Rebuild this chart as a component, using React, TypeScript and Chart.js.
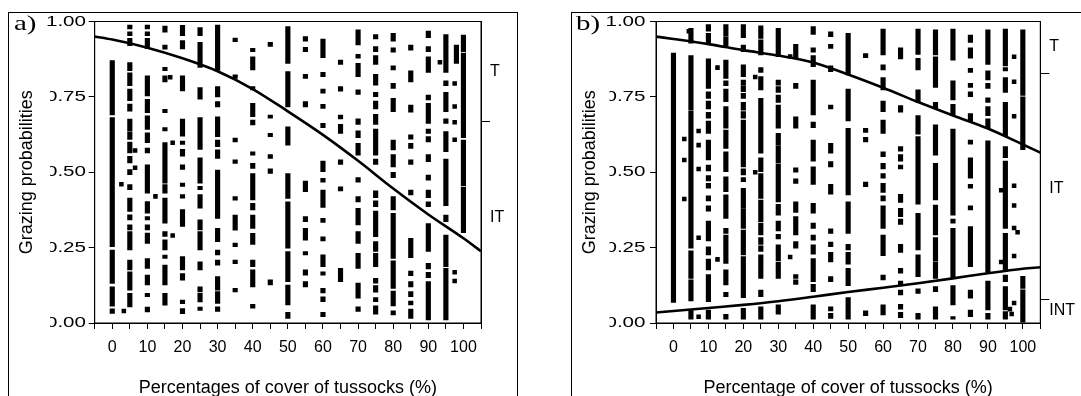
import React, { useEffect, useRef } from 'react';
import { Chart, registerables } from 'chart.js';

Chart.register(...registerables);

const FONT = '"Liberation Sans", Arial, Helvetica, sans-serif';

// ---------- tick labels ----------
const xTickValues = [0, 10, 20, 30, 40, 50, 60, 70, 80, 90, 100];
const xTickLabels = ['0', '10', '20', '30', '40', '50', '60', '70', '80', '90', '100'];
const yTickValues = [0, 0.25, 0.5, 0.75, 1];
const yTickLabels = ['0.00', '0.25', '0.50', '0.75', '1.00'];

const xTitleA = 'Percentages of cover of tussocks (%)';
const xTitleB = 'Percentage of cover of tussocks (%)';
const yTitle = 'Grazing probabilities';

// right-hand zone labels ('' = boundary tick mark)
const rightValuesA = [0.834, 0.669, 0.348];
const rightLabelsA = ['T', '', 'IT'];
const rightValuesB = [0.917, 0.829, 0.446, 0.079, 0.04];
const rightLabelsB = ['T', '', 'IT', '', 'INT'];

// ---------- panel a: observed grazing records (columns of ranges) ----------
const columnXsA = [0, 5, 10, 15, 20, 25, 30, 35, 40, 45, 50, 55, 60, 65, 70, 75, 80, 85, 90, 95, 100, 98];
const columnRangesA: number[][][] = [
  [[0.032, 0.047], [0.056, 0.12], [0.131, 0.242], [0.253, 0.681], [0.69, 0.87]],
  [[0.975, 0.988], [0.953, 0.966], [0.92, 0.944], [0.837, 0.864], [0.787, 0.83], [0.737, 0.776], [0.703, 0.726], [0.637, 0.676], [0.609, 0.634], [0.564, 0.6], [0.531, 0.553], [0.492, 0.509], [0.442, 0.459], [0.37, 0.414], [0.342, 0.359], [0.309, 0.326], [0.242, 0.303], [0.176, 0.209], [0.109, 0.17], [0.053, 0.098]],
  [[0.975, 0.988], [0.953, 0.966], [0.91, 0.944], [0.753, 0.82], [0.698, 0.742], [0.642, 0.687], [0.598, 0.631], [0.564, 0.58], [0.431, 0.525], [0.364, 0.403], [0.342, 0.353], [0.309, 0.326], [0.264, 0.298], [0.181, 0.214], [0.126, 0.159], [0.087, 0.098], [0.037, 0.053]],
  [[0.965, 0.985], [0.908, 0.922], [0.837, 0.848], [0.8, 0.82], [0.698, 0.709], [0.637, 0.648], [0.464, 0.598], [0.431, 0.459], [0.331, 0.414], [0.287, 0.303], [0.242, 0.276], [0.214, 0.225], [0.126, 0.192], [0.059, 0.098]],
  [[0.953, 0.987], [0.909, 0.937], [0.77, 0.82], [0.62, 0.676], [0.592, 0.603], [0.553, 0.576], [0.509, 0.525], [0.453, 0.464], [0.414, 0.426], [0.32, 0.376], [0.176, 0.22], [0.142, 0.164], [0.064, 0.076], [0.031, 0.048]],
  [[0.953, 0.98], [0.848, 0.931], [0.742, 0.781], [0.576, 0.681], [0.464, 0.548], [0.442, 0.453], [0.381, 0.426], [0.309, 0.342], [0.242, 0.303], [0.176, 0.203], [0.103, 0.12], [0.07, 0.098], [0.042, 0.053]],
  [[0.838, 0.988], [0.75, 0.784], [0.717, 0.734], [0.618, 0.684], [0.585, 0.607], [0.546, 0.574], [0.347, 0.507], [0.27, 0.314], [0.226, 0.242], [0.192, 0.209], [0.109, 0.154], [0.065, 0.104], [0.038, 0.054]],
  [[0.933, 0.945], [0.811, 0.823], [0.601, 0.613], [0.529, 0.541], [0.407, 0.419], [0.308, 0.358], [0.253, 0.265], [0.197, 0.209], [0.103, 0.115]],
  [[0.9, 0.911], [0.839, 0.883], [0.773, 0.784], [0.684, 0.729], [0.657, 0.673], [0.557, 0.568], [0.513, 0.53], [0.408, 0.496], [0.375, 0.397], [0.314, 0.358], [0.261, 0.297], [0.187, 0.209], [0.12, 0.176], [0.049, 0.062]],
  [[0.917, 0.931], [0.679, 0.69], [0.618, 0.629], [0.546, 0.559], [0.496, 0.511], [0.126, 0.143]],
  [[0.861, 0.983], [0.717, 0.834], [0.59, 0.651], [0.413, 0.496], [0.248, 0.402], [0.137, 0.237], [0.06, 0.126], [0.015, 0.035]],
  [[0.935, 0.95], [0.9, 0.914], [0.811, 0.825], [0.717, 0.734], [0.436, 0.471], [0.336, 0.353], [0.275, 0.314], [0.226, 0.237], [0.159, 0.176], [0.12, 0.137]],
  [[0.88, 0.942], [0.817, 0.831], [0.762, 0.776], [0.712, 0.725], [0.648, 0.662], [0.502, 0.537], [0.467, 0.48], [0.383, 0.441], [0.334, 0.347], [0.272, 0.286], [0.187, 0.226], [0.159, 0.17], [0.1, 0.115], [0.071, 0.087], [0.021, 0.035]],
  [[0.858, 0.872], [0.769, 0.784], [0.677, 0.69], [0.629, 0.659], [0.526, 0.541], [0.438, 0.452], [0.137, 0.181]],
  [[0.922, 0.972], [0.878, 0.891], [0.817, 0.861], [0.758, 0.773], [0.659, 0.677], [0.615, 0.637], [0.557, 0.596], [0.467, 0.482], [0.402, 0.419], [0.325, 0.38], [0.264, 0.303], [0.181, 0.231], [0.082, 0.132], [0.038, 0.054]],
  [[0.942, 0.957], [0.9, 0.917], [0.858, 0.887], [0.789, 0.825], [0.751, 0.765], [0.71, 0.736], [0.659, 0.692], [0.557, 0.643], [0.526, 0.544], [0.416, 0.438], [0.386, 0.405], [0.286, 0.371], [0.237, 0.27], [0.187, 0.231], [0.132, 0.148], [0.102, 0.124], [0.071, 0.084], [0.029, 0.057]],
  [[0.935, 0.961], [0.898, 0.913], [0.839, 0.853], [0.778, 0.795], [0.701, 0.745], [0.574, 0.607], [0.518, 0.559], [0.482, 0.5], [0.375, 0.419], [0.214, 0.364], [0.115, 0.206], [0.057, 0.106], [0.027, 0.04]],
  [[0.905, 0.922], [0.8, 0.836], [0.699, 0.723], [0.61, 0.624], [0.579, 0.596], [0.526, 0.541], [0.425, 0.441], [0.217, 0.281], [0.157, 0.172], [0.12, 0.137], [0.087, 0.104], [0.06, 0.073], [0.015, 0.046]],
  [[0.946, 0.968], [0.9, 0.917], [0.831, 0.883], [0.74, 0.756], [0.662, 0.729], [0.629, 0.643], [0.601, 0.618], [0.535, 0.559], [0.474, 0.491], [0.416, 0.441], [0.386, 0.402], [0.237, 0.33], [0.179, 0.198], [0.15, 0.168], [0.01, 0.137]],
  [[0.831, 0.957], [0.787, 0.803], [0.701, 0.765], [0.662, 0.677], [0.568, 0.635], [0.389, 0.544], [0.336, 0.358], [0.187, 0.292], [0.01, 0.181]],
  [[0.3, 0.45], [0.455, 0.607], [0.615, 0.895], [0.9, 0.955]],
  [[0.861, 0.922]],
];
const dotsA: number[][] = [
  [2.6, 0.46], [3.3, 0.04], [6.5, 0.572], [6.5, 0.515], [12.3, 0.42], [16.5, 0.815], [17.2, 0.598], [17.2, 0.29],
  [93.3, 0.865], [97.5, 0.794], [97.5, 0.718], [97.5, 0.666], [97.5, 0.608], [97.5, 0.168], [97.5, 0.139],
];
const curveA: number[][] = [
  [-5, 0.95], [0, 0.94], [10, 0.913], [20, 0.878], [30, 0.835], [40, 0.776], [50, 0.702], [60, 0.624],
  [70, 0.538], [80, 0.446], [90, 0.36], [100, 0.281], [105, 0.238],
];

// ---------- panel b ----------
const columnXsB = [0, 5, 10, 15, 20, 25, 30, 35, 40, 45, 50, 55, 60, 65, 70, 75, 80, 85, 90, 95, 100];
const columnRangesB: number[][][] = [
  [[0.068, 0.895]],
  [[0.928, 0.977], [0.706, 0.887], [0.248, 0.703], [0.148, 0.239], [0.073, 0.143], [0.013, 0.043]],
  [[0.968, 0.99], [0.928, 0.961], [0.778, 0.876], [0.745, 0.767], [0.71, 0.736], [0.679, 0.699], [0.629, 0.67], [0.541, 0.607], [0.504, 0.524], [0.471, 0.489], [0.447, 0.463], [0.405, 0.422], [0.371, 0.389], [0.272, 0.338], [0.226, 0.253], [0.176, 0.212], [0.071, 0.161], [0.013, 0.043]],
  [[0.953, 0.99], [0.92, 0.95], [0.811, 0.872], [0.787, 0.803], [0.734, 0.776], [0.646, 0.718], [0.579, 0.64], [0.502, 0.568], [0.436, 0.485], [0.347, 0.425], [0.297, 0.314], [0.198, 0.292], [0.126, 0.176], [0.087, 0.102], [0.013, 0.029]],
  [[0.946, 0.99], [0.9, 0.922], [0.817, 0.856], [0.789, 0.806], [0.767, 0.787], [0.745, 0.762], [0.706, 0.732], [0.679, 0.701], [0.518, 0.673], [0.491, 0.511], [0.469, 0.482], [0.38, 0.447], [0.314, 0.378], [0.226, 0.308], [0.084, 0.22], [0.013, 0.049]],
  [[0.944, 0.986], [0.889, 0.939], [0.831, 0.847], [0.773, 0.817], [0.563, 0.745], [0.502, 0.548], [0.413, 0.496], [0.336, 0.408], [0.292, 0.331], [0.261, 0.283], [0.237, 0.256], [0.203, 0.226], [0.148, 0.201], [0.087, 0.109], [0.013, 0.054]],
  [[0.883, 0.977], [0.789, 0.806], [0.765, 0.784], [0.732, 0.756], [0.646, 0.723], [0.59, 0.629], [0.53, 0.588], [0.402, 0.526], [0.358, 0.394], [0.305, 0.338], [0.279, 0.294], [0.206, 0.259], [0.148, 0.201], [0.029, 0.06]],
  [[0.878, 0.924], [0.778, 0.795], [0.646, 0.684], [0.5, 0.515], [0.463, 0.478], [0.367, 0.402], [0.292, 0.353], [0.248, 0.27], [0.148, 0.161], [0.128, 0.143]],
  [[0.957, 0.983], [0.898, 0.913], [0.85, 0.887], [0.69, 0.806], [0.648, 0.666], [0.537, 0.607], [0.46, 0.518], [0.364, 0.397], [0.314, 0.331], [0.275, 0.292], [0.228, 0.259], [0.137, 0.214], [0.104, 0.128], [0.013, 0.06]],
  [[0.95, 0.966], [0.911, 0.924], [0.834, 0.853], [0.71, 0.723], [0.563, 0.596], [0.518, 0.535], [0.427, 0.46], [0.297, 0.312], [0.253, 0.268], [0.203, 0.234], [0.137, 0.154], [0.04, 0.054], [0.015, 0.032]],
  [[0.823, 0.961], [0.67, 0.776], [0.425, 0.646], [0.297, 0.402], [0.242, 0.261], [0.195, 0.234], [0.124, 0.181], [0.013, 0.084]],
  [[0.88, 0.894], [0.632, 0.646], [0.601, 0.616], [0.452, 0.467], [0.024, 0.04]],
  [[0.889, 0.975], [0.839, 0.856], [0.773, 0.814], [0.701, 0.736], [0.629, 0.673], [0.552, 0.568], [0.511, 0.53], [0.48, 0.496], [0.433, 0.463], [0.405, 0.422], [0.314, 0.389], [0.223, 0.292], [0.143, 0.159], [0.027, 0.06]],
  [[0.876, 0.913], [0.699, 0.721], [0.57, 0.585], [0.537, 0.559], [0.511, 0.524], [0.4, 0.427], [0.353, 0.38], [0.327, 0.345], [0.234, 0.261], [0.165, 0.181], [0.126, 0.139], [0.093, 0.109], [0.046, 0.062], [0.018, 0.035]],
  [[0.891, 0.975], [0.839, 0.878], [0.732, 0.773], [0.626, 0.688], [0.394, 0.618], [0.242, 0.364], [0.154, 0.226], [0.098, 0.113], [0.013, 0.032]],
  [[0.889, 0.972], [0.781, 0.883], [0.714, 0.732], [0.557, 0.657], [0.408, 0.53], [0.292, 0.391], [0.206, 0.283], [0.148, 0.203], [0.104, 0.121], [0.013, 0.054]],
  [[0.872, 0.975], [0.74, 0.803], [0.688, 0.725], [0.358, 0.643], [0.331, 0.345], [0.148, 0.314], [0.06, 0.124], [0.013, 0.021]],
  [[0.931, 0.955], [0.878, 0.913], [0.831, 0.845], [0.781, 0.795], [0.751, 0.767], [0.67, 0.695], [0.593, 0.607], [0.48, 0.548], [0.447, 0.46], [0.375, 0.389], [0.187, 0.32], [0.082, 0.109], [0.021, 0.043]],
  [[0.858, 0.972], [0.806, 0.836], [0.778, 0.795], [0.732, 0.747], [0.688, 0.718], [0.648, 0.677], [0.369, 0.604], [0.168, 0.367], [0.043, 0.139], [0.013, 0.032]],
  [[0.853, 0.975], [0.836, 0.847], [0.765, 0.814], [0.621, 0.732], [0.548, 0.585], [0.314, 0.537], [0.17, 0.297], [0.137, 0.159], [0.043, 0.121], [0.013, 0.038]],
  [[0.003, 0.11], [0.115, 0.155], [0.575, 0.75], [0.755, 0.972]],
];
const dotsB: number[][] = [
  [3.1, 0.61], [3.1, 0.541], [3.1, 0.411], [4.4, 0.968], [7.2, 0.637], [7.2, 0.59], [7.2, 0.511], [7.2, 0.283], [7.2, 0.021],
  [12.6, 0.847], [12.6, 0.211], [23.4, 0.816], [23.4, 0.5], [33.4, 0.884], [33.4, 0.219],
  [93.8, 0.44], [93.8, 0.202], [97.5, 0.883], [97.5, 0.8], [97.5, 0.686], [97.5, 0.455], [97.5, 0.39], [97.5, 0.315],
  [97.5, 0.222], [97.5, 0.066], [98.5, 0.301], [96.3, 0.046], [96.8, 0.03],
];
const curveBUpper: number[][] = [
  [-5, 0.95], [0, 0.942], [10, 0.925], [20, 0.905], [30, 0.887], [40, 0.864], [50, 0.824], [60, 0.78],
  [70, 0.733], [80, 0.688], [90, 0.645], [100, 0.592], [105, 0.565],
];
const curveBLower: number[][] = [
  [-5, 0.035], [0, 0.04], [10, 0.05], [20, 0.06], [30, 0.072], [40, 0.087], [50, 0.103], [60, 0.117],
  [70, 0.132], [80, 0.148], [90, 0.165], [100, 0.18], [105, 0.185],
];

type PanelSpec = {
  colXs: number[];
  colRanges: number[][][];
  dots: number[][];
  curves: number[][][];
  rightValues: number[];
  rightLabels: string[];
  xTitle: string;
  width: number;
  padLeft: number;
  yWidth: number;
  rightWidth: number;
  labelRight: number;
  labelClip: number;
};

const framePlugin = {
  id: 'frame',
  afterDraw(chart: any) {
    const { ctx, chartArea } = chart;
    ctx.save();
    ctx.strokeStyle = '#000';
    ctx.lineWidth = 1;
    ctx.strokeRect(chartArea.left, chartArea.top, chartArea.right - chartArea.left, chartArea.bottom - chartArea.top);
    ctx.restore();
  },
};

// y tick labels drawn wide (as in the source figure), lower ones partly masked at the left
const yLabelPlugin = {
  id: 'wideYLabels',
  afterDraw(chart: any, _args: any, opts: any) {
    const s = chart.scales.y;
    const ctx = chart.ctx;
    ctx.save();
    ctx.font = `14.5px ${FONT}`;
    ctx.fillStyle = '#000';
    ctx.textBaseline = 'middle';
    ctx.textAlign = 'right';
    yTickValues.forEach((v, i) => {
      const y = s.getPixelForValue(v);
      ctx.save();
      if (v < 1) {
        ctx.beginPath();
        ctx.rect(opts.clip, 0, chart.width, chart.height);
        ctx.clip();
      }
      ctx.translate(opts.right, y);
      ctx.scale(1.42, 1);
      ctx.fillText(yTickLabels[i], 0, 0);
      ctx.restore();
    });
    ctx.restore();
  },
};

function xLabel(v: number): string {
  const r = Math.round(v);
  if (Math.abs(v - r) > 1e-6) return '';
  const i = xTickValues.indexOf(r);
  return i >= 0 ? xTickLabels[i] : '';
}
function yLabel(v: number): string {
  const i = yTickValues.findIndex((t) => Math.abs(t - v) < 1e-6);
  return i >= 0 ? yTickLabels[i] : '';
}

function buildConfig(p: PanelSpec): any {
  const bars: any[] = [];
  p.colXs.forEach((x, i) => {
    p.colRanges[i].forEach(([lo, hi]) => bars.push({ x, y: [lo, hi] }));
  });
  const datasets: any[] = [
    ...p.curves.map((c) => ({
      type: 'line',
      data: c.map(([x, y]) => ({ x, y })),
      borderColor: '#000',
      borderWidth: 2.6,
      pointRadius: 0,
      tension: 0.4,
      cubicInterpolationMode: 'monotone',
      fill: false,
    })),
    {
      type: 'scatter',
      data: p.dots.map(([x, y]) => ({ x, y })),
      pointStyle: 'rect',
      pointRadius: 3.2,
      pointBackgroundColor: '#000',
      pointBorderWidth: 0,
      borderWidth: 0,
      showLine: false,
    },
    {
      type: 'bar',
      data: bars,
      backgroundColor: '#000',
      borderWidth: 0,
      barThickness: 4.5,
      grouped: false,
    },
  ];
  const tickFont = { family: FONT, size: 16 };
  return {
    type: 'bar',
    data: { datasets },
    options: {
      animation: false,
      responsive: false,
      events: [],
      layout: { padding: { left: p.padLeft, right: 0, top: 21.5, bottom: 0 } },
      plugins: {
        legend: { display: false },
        tooltip: { enabled: false },
        wideYLabels: { right: p.labelRight, clip: p.labelClip },
      },
      scales: {
        x: {
          type: 'linear',
          min: -5,
          max: 105,
          offset: false,
          ticks: {
            stepSize: 5,
            autoSkip: false,
            maxRotation: 0,
            minRotation: 0,
            padding: 9,
            font: tickFont,
            color: '#000',
            callback: (v: number) => xLabel(v),
          },
          grid: { drawOnChartArea: false, tickLength: 6, color: '#000', offset: false },
          border: { display: true, color: '#000', width: 1 },
          title: {
            display: true,
            text: p.xTitle,
            color: '#000',
            font: { family: FONT, size: 18, lineHeight: 0.9 },
            padding: { top: 0, bottom: 0 },
          },
          afterFit: (s: any) => { s.height = 73; },
        },
        y: {
          type: 'linear',
          position: 'left',
          min: 0,
          max: 1,
          ticks: {
            stepSize: 0.25,
            padding: 3,
            font: tickFont,
            color: 'rgba(0,0,0,0)',
            callback: (v: number) => yLabel(v),
          },
          grid: { drawOnChartArea: false, tickLength: 6, color: '#000' },
          border: { display: true, color: '#000', width: 1 },
          title: {
            display: true,
            text: yTitle,
            color: '#000',
            font: { family: FONT, size: 18 },
            padding: { top: 16.7, bottom: 0 },
          },
          afterFit: (s: any) => { s.width = p.yWidth; },
        },
        y2: {
          type: 'linear',
          position: 'right',
          min: 0,
          max: 1,
          afterBuildTicks: (s: any) => { s.ticks = p.rightValues.map((value) => ({ value })); },
          ticks: {
            autoSkip: false,
            padding: 0,
            font: tickFont,
            color: '#000',
            callback: (_v: number, i: number) => p.rightLabels[i],
          },
          grid: {
            drawOnChartArea: false,
            tickLength: 9,
            color: '#000',
            tickColor: (c: any) => (p.rightLabels[c.index] === '' ? '#000' : 'rgba(0,0,0,0)'),
          },
          border: { display: true, color: '#000', width: 1 },
          afterFit: (s: any) => { s.width = p.rightWidth; },
        },
      },
    },
    plugins: [framePlugin, yLabelPlugin],
  };
}

const panelA: PanelSpec = {
  colXs: columnXsA,
  colRanges: columnRangesA,
  dots: dotsA,
  curves: [curveA],
  rightValues: rightValuesA,
  rightLabels: rightLabelsA,
  xTitle: xTitleA,
  width: 540,
  padLeft: 0,
  yWidth: 94.7,
  rightWidth: 59,
  labelRight: 86,
  labelClip: 50,
};
const panelB: PanelSpec = {
  colXs: columnXsB,
  colRanges: columnRangesB,
  dots: dotsB,
  curves: [curveBUpper, curveBLower],
  rightValues: rightValuesB,
  rightLabels: rightLabelsB,
  xTitle: xTitleB,
  width: 541,
  padLeft: 22.5,
  yWidth: 93.5,
  rightWidth: 40.7,
  labelRight: 105.5,
  labelClip: 69.5,
};

function Panel({ spec, left }: { spec: PanelSpec; left: number }) {
  const ref = useRef<HTMLCanvasElement | null>(null);
  useEffect(() => {
    if (!ref.current) return;
    const chart = new Chart(ref.current, buildConfig(spec));
    return () => chart.destroy();
  }, [spec]);
  return (
    <canvas
      ref={ref}
      width={spec.width}
      height={396}
      style={{ position: 'absolute', left, top: 0, width: spec.width, height: 396 }}
    />
  );
}

export default function App() {
  const labelStyle: React.CSSProperties = {
    position: 'absolute',
    top: 12.5,
    fontFamily: '"Liberation Serif", "Times New Roman", serif',
    fontSize: 21,
    lineHeight: '21px',
    color: '#000',
    transform: 'scaleX(1.38)',
    transformOrigin: '0 0',
  };
  return (
    <div style={{ position: 'absolute', left: 0, top: 0, width: 1081, height: 396, overflow: 'hidden', background: '#fff' }}>
      <div style={{ position: 'absolute', left: 8, top: 12, width: 510, height: 420, border: '1px solid #000', boxSizing: 'border-box' }} />
      <div style={{ position: 'absolute', left: 571, top: 12, width: 600, height: 420, border: '1px solid #000', boxSizing: 'border-box' }} />
      <Panel spec={panelA} left={0} />
      <Panel spec={panelB} left={540} />
      <div style={{ ...labelStyle, left: 14 }}>a)</div>
      <div style={{ ...labelStyle, left: 576 }}>b)</div>
    </div>
  );
}
